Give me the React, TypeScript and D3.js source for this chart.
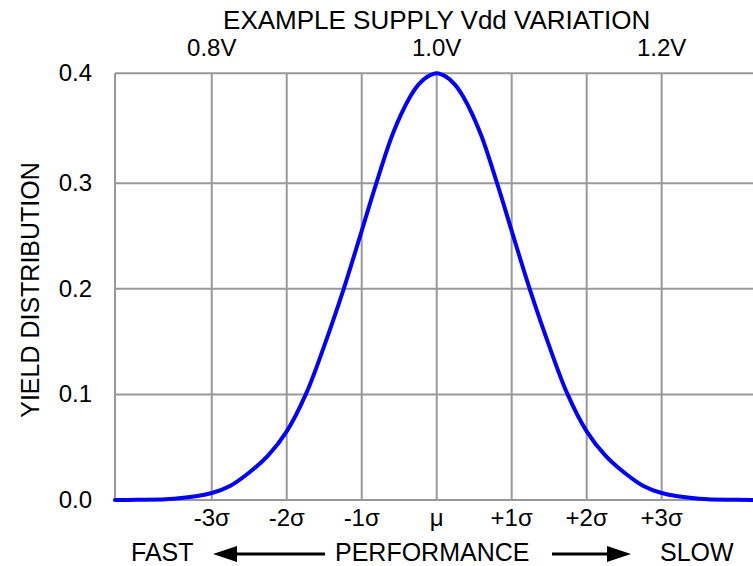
import React, { useEffect, useRef } from "react"
import * as d3 from "d3"

// curve, x in sigma units
const sigmaPos = [-4.29, -4, -3.5, -3, -2.75, -2.5, -2.25, -2, -1.74, -1.5, -1.24, -1, -0.81, -0.58, -0.36, -0.24, -0.12, 0, 0.12, 0.24, 0.36, 0.58, 0.81, 1, 1.24, 1.5, 1.74, 2, 2.25, 2.5, 2.75, 3, 3.5, 4, 4.29]
const yieldVals = [0, 0.0002, 0.0012, 0.0066, 0.0135, 0.026, 0.042, 0.065, 0.101, 0.146, 0.2, 0.255, 0.299, 0.346, 0.378, 0.39, 0.397, 0.4, 0.397, 0.39, 0.378, 0.346, 0.299, 0.255, 0.2, 0.146, 0.101, 0.065, 0.042, 0.026, 0.0135, 0.0066, 0.0012, 0.0002, 0]

const sigmaTicks = [-3, -2, -1, 0, 1, 2, 3]
const sigmaLabels = ["-3σ", "-2σ", "-1σ", "μ", "+1σ", "+2σ", "+3σ"]
const voltTicks = [-3, 0, 3]
const voltLabels = ["0.8V", "1.0V", "1.2V"]
const yTicks = [0, 0.1, 0.2, 0.3, 0.4]
const yTickLabels = ["0.0", "0.1", "0.2", "0.3", "0.4"]

const W = 753
const H = 566
const FONT = "'Liberation Sans', Arial, sans-serif"

export default function App() {
  const ref = useRef<SVGSVGElement>(null)

  useEffect(() => {
    const svg = d3.select(ref.current)
    svg.selectAll("*").remove()

    const x = d3.scaleLinear().domain([-4.29, 4.29]).range([115, 758.4])
    const y = d3.scaleLinear().domain([0, 0.3, 0.4]).range([500, 183.3, 73.3])

    const grid = svg.append("g").attr("stroke", "#999").attr("stroke-width", 2)

    // vertical grid + left border
    grid
      .selectAll("line.v")
      .data([-4.29, ...sigmaTicks])
      .enter()
      .append("line")
      .attr("x1", (d) => x(d))
      .attr("x2", (d) => x(d))
      .attr("y1", y(0.4))
      .attr("y2", y(0))

    grid
      .selectAll("line.h")
      .data(yTicks)
      .enter()
      .append("line")
      .attr("x1", x(-4.29))
      .attr("x2", x(4.29))
      .attr("y1", (d) => y(d))
      .attr("y2", (d) => y(d))

    const pts = sigmaPos.map((s, i) => [s, yieldVals[i]] as [number, number])
    const line = d3
      .line<[number, number]>()
      .x((d) => x(d[0]))
      .y((d) => y(d[1]))
      .curve(d3.curveCatmullRom.alpha(0.5))

    svg
      .append("path")
      .attr("d", line(pts))
      .attr("fill", "none")
      .attr("stroke", "#0000ff")
      .attr("stroke-width", 4)
      .attr("stroke-linejoin", "round")
      .attr("stroke-linecap", "round")

    const txt = svg.append("g").attr("font-family", FONT).attr("fill", "#000")

    // y ticks
    txt
      .selectAll("text.yt")
      .data(yTicks)
      .enter()
      .append("text")
      .attr("x", 92)
      .attr("y", (d) => y(d) + 8)
      .attr("text-anchor", "end")
      .attr("font-size", 24)
      .text((d, i) => yTickLabels[i])

    txt
      .append("text")
      .attr("transform", "translate(39,290) rotate(-90)")
      .attr("text-anchor", "middle")
      .attr("font-size", 25)
      .text("YIELD DISTRIBUTION")

    // sigma labels
    txt
      .selectAll("text.sx")
      .data(sigmaTicks)
      .enter()
      .append("text")
      .attr("x", (d) => x(d))
      .attr("y", 526)
      .attr("text-anchor", "middle")
      .attr("font-size", 24)
      .text((d, i) => sigmaLabels[i])

    // top voltage axis
    txt
      .selectAll("text.vx")
      .data(voltTicks)
      .enter()
      .append("text")
      .attr("x", (d) => x(d))
      .attr("y", 56)
      .attr("text-anchor", "middle")
      .attr("font-size", 24)
      .text((d, i) => voltLabels[i])

    txt
      .append("text")
      .attr("x", x(0))
      .attr("y", 29)
      .attr("text-anchor", "middle")
      .attr("font-size", 26)
      .text("EXAMPLE SUPPLY Vdd VARIATION")

    // bottom performance line
    const by = 561
    txt.append("text").attr("x", 131).attr("y", by).attr("font-size", 25).text("FAST")
    txt.append("text").attr("x", 335).attr("y", by).attr("font-size", 25).text("PERFORMANCE")
    txt.append("text").attr("x", 660).attr("y", by).attr("font-size", 25).text("SLOW")

    const ay = 554
    const arrows = svg.append("g").attr("fill", "#000").attr("stroke", "#000")
    arrows.append("line").attr("x1", 230).attr("x2", 325).attr("y1", ay).attr("y2", ay).attr("stroke-width", 3)
    arrows
      .append("path")
      .attr("d", `M213,${ay} L237,${ay - 8} L237,${ay + 8} Z`)
      .attr("stroke", "none")
    arrows.append("line").attr("x1", 552).attr("x2", 614).attr("y1", ay).attr("y2", ay).attr("stroke-width", 3)
    arrows
      .append("path")
      .attr("d", `M631,${ay} L607,${ay - 8} L607,${ay + 8} Z`)
      .attr("stroke", "none")
  }, [])

  return (
    <svg
      ref={ref}
      width={W}
      height={H}
      style={{ position: "absolute", left: 0, top: 0, background: "#fff" }}
    />
  )
}
